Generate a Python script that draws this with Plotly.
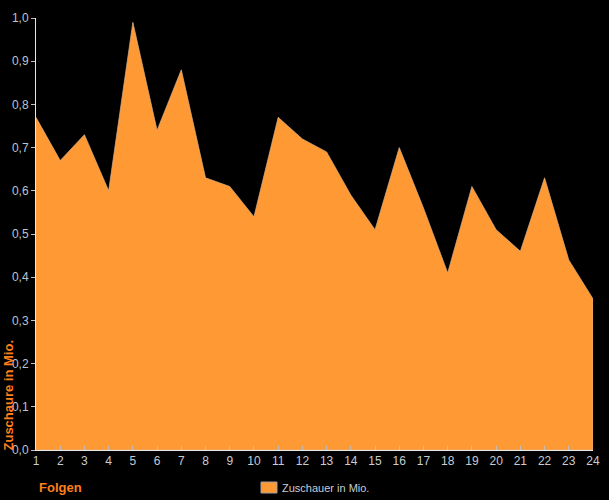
import plotly.graph_objects as go

episodes = list(range(1, 25))
viewers = [0.77, 0.67, 0.73, 0.60, 0.99, 0.74, 0.88, 0.63, 0.61, 0.54, 0.77, 0.72,
           0.69, 0.59, 0.51, 0.70, 0.56, 0.41, 0.61, 0.51, 0.46, 0.63, 0.44, 0.35]
y_ticks = [i / 10 for i in range(11)]
y_tick_labels = [f"{v:.1f}".replace(".", ",") for v in y_ticks]
series_name = "Zuschauer in Mio."

ORANGE = "#FF9933"
FONT = "Liberation Sans, Arial, sans-serif"

# closed area polygon built from the data (baseline at zero)
poly_x = episodes + [episodes[-1], episodes[0]]
poly_y = viewers + [0, 0]

fig = go.Figure()
fig.add_trace(go.Scatter(
    x=poly_x, y=poly_y, mode="lines", fill="toself",
    fillcolor=ORANGE, line=dict(color="#d8b08c", width=0.7),
    name=series_name, showlegend=False, hoverinfo="skip",
))

W, H = 609, 500
L, R, T, B = 36, 16, 18, 50
pw, ph = W - L - R, H - T - B


def px(x):
    return (x - L) / pw


def py(y):
    return (H - B - y) / ph


fig.update_layout(
    width=W, height=H,
    margin=dict(l=L, r=R, t=T, b=B, pad=0, autoexpand=False),
    paper_bgcolor="black", plot_bgcolor="black",
    font=dict(family=FONT, size=12, color="#c8ccd0"),
    showlegend=False,
    xaxis=dict(range=[1, 24], tickmode="array", tickvals=episodes,
               ticktext=[str(e) for e in episodes], automargin=False,
               showgrid=False, zeroline=False, showline=True,
               linecolor="#e8e8e8", linewidth=1,
               ticks="inside", ticklen=4, tickcolor="#c0c0c0",
               tickfont=dict(size=12, color="#c8ccd0"), layer="above traces"),
    yaxis=dict(range=[0, 1.0], tickmode="array", tickvals=y_ticks,
               ticktext=y_tick_labels, automargin=False,
               showgrid=False, zeroline=False, showline=True,
               linecolor="#e8e8e8", linewidth=1,
               ticks="outside", ticklen=4, tickcolor="#c0c0c0",
               tickfont=dict(size=12, color="#b8c4d0"), layer="above traces"),
    shapes=[
        dict(type="rect", xref="paper", yref="paper",
             x0=px(261), x1=px(277), y0=py(493), y1=py(482),
             fillcolor=ORANGE, line=dict(color="#a0a0a0", width=1)),
    ],
    annotations=[
        dict(text="<b>Zuschaure in Mio.</b>", xref="paper", yref="paper",
             x=px(8), y=py(453), xanchor="center", yanchor="bottom",
             textangle=-90, showarrow=False,
             font=dict(family=FONT, size=13, color="#FF7F1A")),
        dict(text="<b>Folgen</b>", xref="paper", yref="paper",
             x=px(37), y=py(487), xanchor="left", yanchor="middle",
             showarrow=False, font=dict(family=FONT, size=13, color="#FF7F1A")),
        dict(text=series_name, xref="paper", yref="paper",
             x=px(280), y=py(488), xanchor="left", yanchor="middle",
             showarrow=False, font=dict(family=FONT, size=11, color="#c8ccd4")),
    ],
)

fig.write_html(
    "out.html",
    config={"displayModeBar": False},
    post_script="document.body.style.margin='0';document.body.style.background='black';"
                "document.documentElement.style.overflow='hidden';",
)
